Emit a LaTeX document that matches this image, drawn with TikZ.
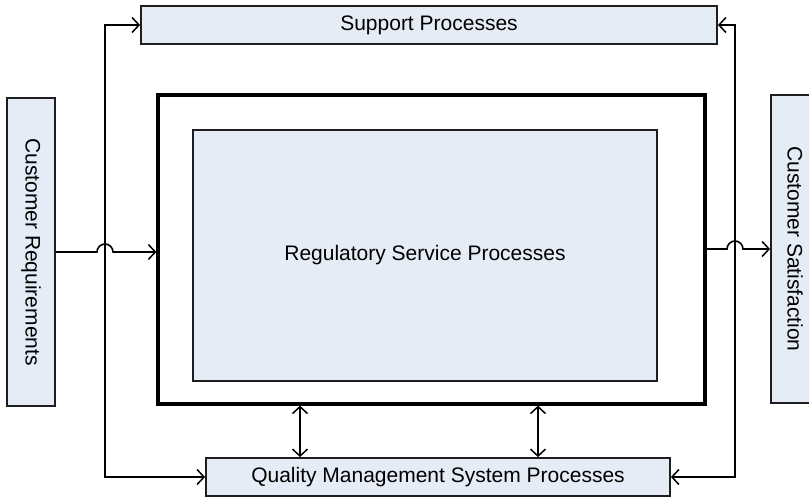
\documentclass[tikz,border=0pt]{standalone}
\usepackage{fontspec}
\setmainfont{Liberation Sans}
\usetikzlibrary{arrows.meta}

\definecolor{boxfill}{RGB}{230,236,246}
\definecolor{boxline}{RGB}{30,30,30}

\begin{document}
\begin{tikzpicture}[x=1pt,y=-1pt,
  procbox/.style={draw=boxline, line width=1.8pt, fill=boxfill, inner sep=0pt,
                  font=\fontsize{21}{25}\selectfont},
  vbox/.style={procbox, rotate=-90},
  frame/.style={draw=black, line width=3.2pt, inner sep=0pt},
  link/.style={draw=black, line width=1.6pt},
  barb/.tip={Straight Barb[length=7pt,width=15pt,line width=1.5pt]},
  tip/.style={-barb},
  bothtips/.style={barb-barb}
]
\useasboundingbox (0,0) rectangle (809,497);

% process boxes
\node[procbox, minimum width=576pt, minimum height=38pt] (sup) at (429,25) {Support Processes};
\node[procbox, minimum width=464pt, minimum height=38pt] (qms) at (438,477) {Quality Management System Processes};
\node[frame, minimum width=547pt, minimum height=309pt] (outer) at (431.5,249.5) {};
\node[procbox, line width=1.6pt, minimum width=464pt, minimum height=251pt] (inner) at (425,255.5) {Regulatory Service Processes};
\node[vbox, minimum width=308pt, minimum height=48pt] (cr) at (31,252) {Customer Requirements};
\node[vbox, minimum width=308pt, minimum height=48pt] (cs) at (795,249) {Customer Satisfaction};

% routing coordinates for the side loops
\coordinate (lx) at (105,0);
\coordinate (rx) at (735,0);

% side loops to support and quality processes
\draw[link, bothtips] (sup.west) -| (lx |- 0,250) |- (qms.west);
\draw[link, bothtips] (sup.east) -| (rx |- 0,250) |- (qms.east);

% input and output flows, hopping over the side loops
\draw[link, tip] (cr.north) -- (97,252) arc[start angle=180, end angle=360, radius=8] -- (outer.west |- cr.north);
\draw[link, tip] (outer.east |- cs.south) -- (727,249) arc[start angle=180, end angle=360, radius=8] -- (cs.south);

% exchanges with the quality management system
\draw[link, bothtips] (outer.south -| 300,0) -- (qms.north -| 300,0);
\draw[link, bothtips] (outer.south -| 538,0) -- (qms.north -| 538,0);
\end{tikzpicture}
\end{document}
